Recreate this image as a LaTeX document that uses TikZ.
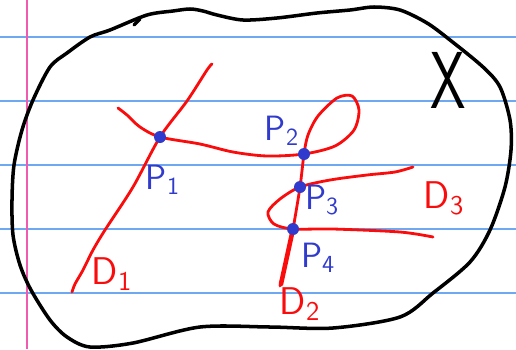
\documentclass[tikz,border=0pt]{standalone}
\usetikzlibrary{arrows}
\pgfdeclarelayer{paper}
\pgfdeclarelayer{background}
\pgfsetlayers{paper,background,main}
\definecolor{ruleblue}{RGB}{110,168,240}
\definecolor{marginpink}{RGB}{240,90,175}
\definecolor{inkred}{RGB}{250,12,12}
\definecolor{inkblue}{RGB}{48,58,205}
\newcommand{\idx}[2]{#1\textsubscript{#2}}

\begin{document}
\begin{tikzpicture}[x=0.02cm,y=-0.02cm,
  dot/.style={inner sep=0pt,minimum size=0.24cm,circle,fill=inkblue},
  curve/.style={inkred,line width=1.6pt,line cap=round,line join=round},
  plabel/.style={inkblue,font=\sffamily\fontsize{20}{20}\selectfont},
  dlabel/.style={inkred,font=\sffamily\fontsize{22}{22}\selectfont}]
\useasboundingbox (0,0) rectangle (516,349);

\begin{pgfonlayer}{paper}
\fill[white] (0,0) rectangle (516,349);
\foreach \y in {37,101,165,229,293}
  \draw[ruleblue,line width=0.7pt] (0,\y) -- (516,\y);
\draw[marginpink,line width=0.8pt] (27,0) -- (27,349);
\end{pgfonlayer}

\node[dot] (P1) at (160,137) {};
\node[dot] (P2) at (304,154) {};
\node[dot] (P3) at (300,187) {};
\node[dot] (P4) at (293,229) {};

\begin{pgfonlayer}{background}
% X
\draw[black,line width=2pt,line join=round] plot[smooth cycle] coordinates {(147,15) (173,11) (190,9) (203,11) (217,15) (243,20) (277,18) (317,13) (350,10) (374,7) (400,10) (427,23) (450,40) (483,67) (500,87) (510,120) (511,150) (505,187) (490,230) (470,262) (433,293) (400,317) (333,328) (270,327) (200,327) (133,343) (90,347) (67,337) (50,320) (31,290) (20,265) (13,235) (12,200) (14,165) (22,130) (33,100) (50,67) (67,53) (90,37) (110,30)};
\draw[black,line width=2pt,line cap=round] (134,25) -- (140,19);
% D1
\draw[curve] plot[smooth] coordinates {(212,64) (207,70) (187,101) (P1.center) (133,187) (105,230) (93,250) (83,270) (75,284) (72,292)};
% D2
\draw[curve] plot[smooth] coordinates {(118,108) (127,115) (140,127) (P1.center) (200,144) (233,152) (267,156) (P2.center) (335,146) (354,130) (359,110) (352,96) (337,98) (318,116) (308,135) (P2.center) (P3.center) (P4.center) (287,258) (280,286)};
\draw[curve,line width=2.6pt] (P4.center) -- (281,284);
% D3
\draw[curve] plot[smooth] coordinates {(413,167) (395,172) (367,175) (330,180) (P3.center) (280,199) (268,212) (274,224) (P4.center) (333,229) (400,232) (433,237)};
\end{pgfonlayer}

\node[plabel] (L1) at (163,180) {\idx{P}{1}};
\node[plabel] (L2) at (282,131) {\idx{P}{2}};
\node[plabel] (L3) at (322,200) {\idx{P}{3}};
\node[plabel] (L4) at (318,258) {\idx{P}{4}};
\node[dlabel] (D1) at (112,274) {\idx{D}{1}};
\node[dlabel] (D2) at (300,304) {\idx{D}{2}};
\node[dlabel] (D3) at (444,198) {\idx{D}{3}};
\node[font=\sffamily\fontsize{46}{46}\selectfont] (X) at (448,80) {\scalebox{0.7}[1]{X}};
\end{tikzpicture}
\end{document}
